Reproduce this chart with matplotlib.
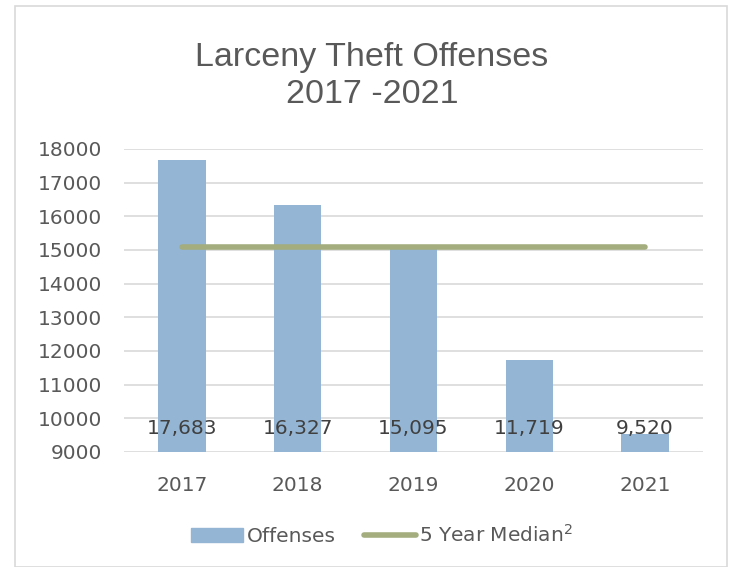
import matplotlib
matplotlib.use("Agg")
import matplotlib.pyplot as plt
from matplotlib.patches import Rectangle
from matplotlib.lines import Line2D

years = ["2017", "2018", "2019", "2020", "2021"]
offenses = [17683, 16327, 15095, 11719, 9520]
median = [15095, 15095, 15095, 15095, 15095]
yticks = [9000, 10000, 11000, 12000, 13000, 14000, 15000, 16000, 17000, 18000]

title_font = "Liberation Sans"
body_font = "DejaVu Sans"

bar_color = "#94B6D4"
line_color = "#A3AD7E"
text_color = "#595959"
grid_color = "#D9D9D9"

fig = plt.figure(figsize=(7.36, 5.67), dpi=100)
fig.patches.append(Rectangle((15 / 736, 0), (727 - 15) / 736, (567 - 12) / 567 + 0.01,
                             transform=fig.transFigure, fill=False,
                             edgecolor="#D9D9D9", linewidth=1.2))

ax = fig.add_axes([124 / 736, 1 - 452 / 567, (703 - 124) / 736, (452 - 149) / 567])
x = list(range(len(years)))
ax.bar(x, offenses, width=0.41, color=bar_color, zorder=2)
ax.plot(x, median, color=line_color, linewidth=4, solid_capstyle="round", zorder=3)

ax.set_ylim(9000, 18000)
ax.set_xlim(-0.5, len(years) - 0.5)
ax.set_yticks(yticks)
ax.set_yticklabels([str(v) for v in yticks], fontsize=14.5, color=text_color, family=body_font)
ax.set_xticks(x)
ax.set_xticklabels(years, fontsize=14.5, color=text_color, family=body_font)
ax.tick_params(axis="both", length=0)
ax.tick_params(axis="y", pad=16)
ax.tick_params(axis="x", pad=17)
ax.grid(axis="y", color=grid_color, linewidth=1.2, zorder=0)
for s in ax.spines.values():
    s.set_visible(False)

for xi, v in zip(x, offenses):
    ax.text(xi, 9000 + 700, f"{v:,}", ha="center", va="center", fontsize=14.5,
            color="#404040", family=body_font, zorder=4)

fig.text(372 / 736, 1 - 76 / 567, "Larceny Theft Offenses\n2017 -2021", ha="center", va="center",
         fontsize=24.5, color=text_color, family=title_font, linespacing=1.26)

handles = [Rectangle((0, 0), 1, 1, color=bar_color),
           Line2D([0], [0], color=line_color, linewidth=4, solid_capstyle="round")]
leg = fig.legend(handles, ["Offenses", "5 Year Median$^{2}$"], loc="center",
                 bbox_to_anchor=(382 / 736, 1 - 535 / 567), ncol=2, frameon=False,
                 prop={"family": body_font, "size": 14.5}, handlelength=2.6, handletextpad=0.15,
                 columnspacing=1.4)
for t in leg.get_texts():
    t.set_color(text_color)

fig.savefig("out.png", dpi=100)
